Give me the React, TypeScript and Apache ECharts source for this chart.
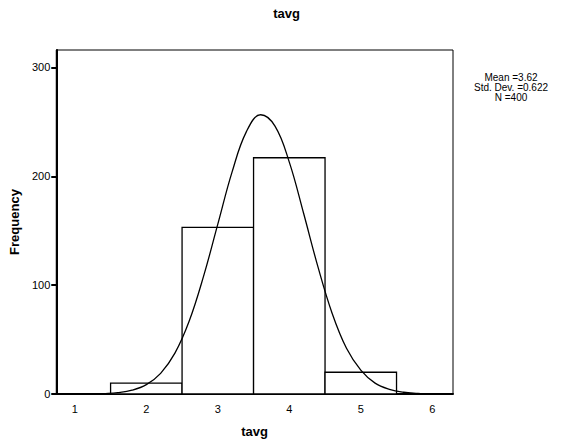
import { useEffect, useRef } from "react";
import * as echarts from "echarts";

// histogram bins: [from, to, count]
const binEdges = [1.5, 2.5, 3.5, 4.5, 5.5];
const binCounts = [10, 153, 217, 20];

// normal curve
const curveX = [1.35, 1.4, 1.6, 1.8, 2.0, 2.2, 2.4, 2.6, 2.8, 3.0, 3.2, 3.4, 3.6, 3.8, 4.0, 4.2, 4.4, 4.6, 4.8, 5.0, 5.2, 5.4, 5.6, 5.8, 5.89];
const curveY = [0.3, 0.4, 1.3, 3.5, 8.6, 19, 37.5, 67, 108, 156, 204, 241, 256.5, 246, 213, 166, 117, 74, 42, 22, 10, 4.3, 1.6, 0.55, 0.3];

const xTicks = [1, 2, 3, 4, 5, 6];
const yTicks = [0, 100, 200, 300];
const statsLines = ["Mean =3.62", "Std. Dev. =0.622", "N =400"];

const FONT = "'Liberation Sans', Arial, sans-serif";
const NARROW = "'Liberation Sans Narrow', 'Arial Narrow', 'Liberation Sans', sans-serif";

export default function App() {
  const ref = useRef<HTMLDivElement>(null);

  useEffect(() => {
    if (!ref.current) return;
    const chart = echarts.init(ref.current, undefined, { renderer: "svg" });

    const bins = binCounts.map((c, i) => [binEdges[i], binEdges[i + 1], c]);

    chart.setOption({
      animation: false,
      backgroundColor: "#fff",
      textStyle: { fontFamily: FONT },
      title: {
        text: "tavg",
        left: "center",
        top: 2,
        textStyle: { fontFamily: FONT, fontSize: 13, fontWeight: "bold", color: "#000" },
      },
      grid: {
        left: 53,
        right: 120,
        top: 50,
        bottom: 52,
        show: true,
        borderColor: "#000",
        borderWidth: 1,
        backgroundColor: "#fff",
      },
      xAxis: {
        type: "value",
        min: 0.74,
        max: 6.29,
        name: "tavg",
        nameLocation: "middle",
        nameGap: 31,
        nameTextStyle: { fontFamily: FONT, fontSize: 13, fontWeight: "bold", color: "#000" },
        axisLine: { show: true, lineStyle: { color: "#000", width: 2 } },
        axisTick: { show: false },
        splitLine: { show: false },
        axisLabel: {
          customValues: xTicks,
          color: "#000",
          fontSize: 11,
          fontFamily: FONT,
          margin: 9,
        },
      },
      yAxis: {
        type: "value",
        min: 0,
        max: 316,
        name: "Frequency",
        nameLocation: "middle",
        nameGap: 32,
        nameRotate: 90,
        nameTextStyle: { fontFamily: FONT, fontSize: 13, fontWeight: "bold", color: "#000" },
        axisLine: { show: true, lineStyle: { color: "#000", width: 2 } },
        axisTick: {
          show: true,
          customValues: yTicks,
          length: 5,
          lineStyle: { color: "#000", width: 2 },
        },
        splitLine: { show: false },
        axisLabel: {
          customValues: yTicks,
          color: "#000",
          fontSize: 11,
          fontFamily: FONT,
          margin: 6,
        },
      },
      series: [
        {
          type: "custom",
          data: bins,
          encode: { x: [0, 1], y: 2 },
          renderItem: (_params: any, api: any) => {
            const p0 = api.coord([api.value(0), api.value(2)]);
            const p1 = api.coord([api.value(1), 0]);
            return {
              type: "rect",
              shape: { x: p0[0], y: p0[1], width: p1[0] - p0[0], height: p1[1] - p0[1] },
              style: { fill: "#fff", stroke: "#000", lineWidth: 1.3 },
            };
          },
          z: 2,
        },
        {
          type: "line",
          data: curveX.map((x, i) => [x, curveY[i]]),
          smooth: 0.4,
          showSymbol: false,
          symbol: "none",
          lineStyle: { color: "#000", width: 1.3 },
          z: 3,
        },
      ],
      graphic: [
        {
          type: "text",
          x: 511,
          y: 72,
          style: {
            text: statsLines.join("\n"),
            font: `10px ${NARROW}`,
            fill: "#000",
            textAlign: "center",
            lineHeight: 10,
          },
        },
      ],
    });

    return () => chart.dispose();
  }, []);

  return (
    <div
      ref={ref}
      style={{ position: "fixed", left: 0, top: 0, width: 573, height: 446 }}
    />
  );
}
